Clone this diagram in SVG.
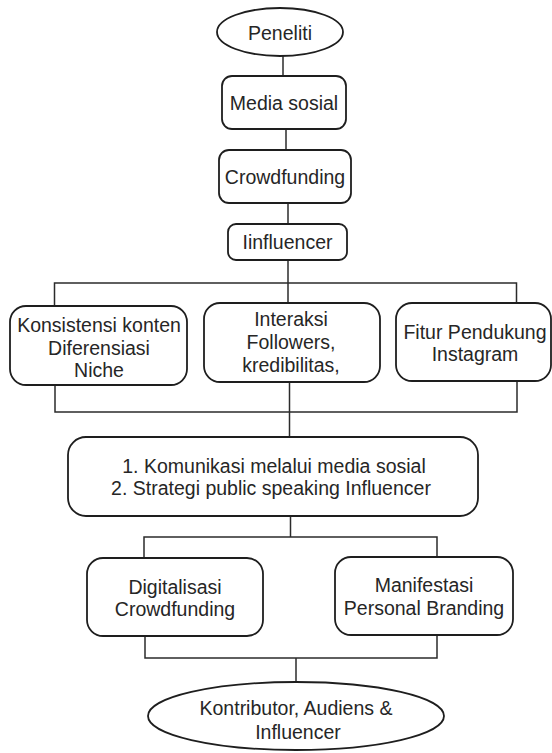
<svg xmlns="http://www.w3.org/2000/svg" width="552" height="753" viewBox="0 0 552 753">
<style>
.node{fill:#ffffff;stroke:#1e1e1e;stroke-width:1.8}
.conn{fill:none;stroke:#2b2b2b;stroke-width:1.5}
text{font-family:"Liberation Sans",Arial,sans-serif;font-size:19.5px;fill:#262626;text-anchor:middle}
</style>
<rect width="552" height="753" fill="#ffffff"/>
<g id="connectors">
<path class="conn" d="M283 56V76"/>
<path class="conn" d="M286 129V150"/>
<path class="conn" d="M288 203V224"/>
<path class="conn" d="M288 260V303"/>
<path class="conn" d="M54.5 306V283H516.5V303"/>
<path class="conn" d="M55 385V412H517V381"/>
<path class="conn" d="M289.5 381V437"/>
<path class="conn" d="M290.5 516V537"/>
<path class="conn" d="M144 558V537H437V557"/>
<path class="conn" d="M145 636V658H437V635"/>
<path class="conn" d="M296 658V682"/>
</g>
<g id="peneliti">
<ellipse class="node" cx="280" cy="32" rx="63" ry="24"/>
<text x="280" y="40">Peneliti</text>
</g>
<g id="media-sosial">
<rect class="node" x="222" y="76" width="124" height="53" rx="10"/>
<text x="284" y="110">Media sosial</text>
</g>
<g id="crowdfunding">
<rect class="node" x="219" y="150" width="132" height="53" rx="10"/>
<text x="285" y="184">Crowdfunding</text>
</g>
<g id="iinfluencer">
<rect class="node" x="228" y="224" width="119" height="36" rx="8"/>
<text x="287.5" y="248.5">Iinfluencer</text>
</g>
<g id="konsistensi">
<rect class="node" x="10" y="306" width="177" height="79" rx="16"/>
<text x="99" y="332">Konsistensi konten</text>
<text x="99" y="354.5">Diferensiasi</text>
<text x="99" y="377">Niche</text>
</g>
<g id="interaksi">
<rect class="node" x="204" y="303" width="176" height="79" rx="16"/>
<text x="291" y="326">Interaksi</text>
<text x="291" y="349">Followers,</text>
<text x="291" y="372">kredibilitas,</text>
</g>
<g id="fitur">
<rect class="node" x="396" y="303" width="155" height="78" rx="16"/>
<text x="475" y="339">Fitur Pendukung</text>
<text x="475" y="361">Instagram</text>
</g>
<g id="komunikasi">
<rect class="node" x="68" y="437" width="410" height="79" rx="18"/>
<text x="274" y="473">1. Komunikasi melalui media sosial</text>
<text x="271" y="495">2. Strategi public speaking Influencer</text>
</g>
<g id="digitalisasi">
<rect class="node" x="87" y="558" width="176" height="78" rx="16"/>
<text x="175" y="594">Digitalisasi</text>
<text x="175" y="616">Crowdfunding</text>
</g>
<g id="manifestasi">
<rect class="node" x="335" y="557" width="178" height="78" rx="16"/>
<text x="424" y="592">Manifestasi</text>
<text x="424" y="615">Personal Branding</text>
</g>
<g id="kontributor">
<ellipse class="node" cx="296" cy="716" rx="148" ry="34"/>
<text x="296" y="715">Kontributor, Audiens &amp;</text>
<text x="298" y="739">Influencer</text>
</g>
</svg>
